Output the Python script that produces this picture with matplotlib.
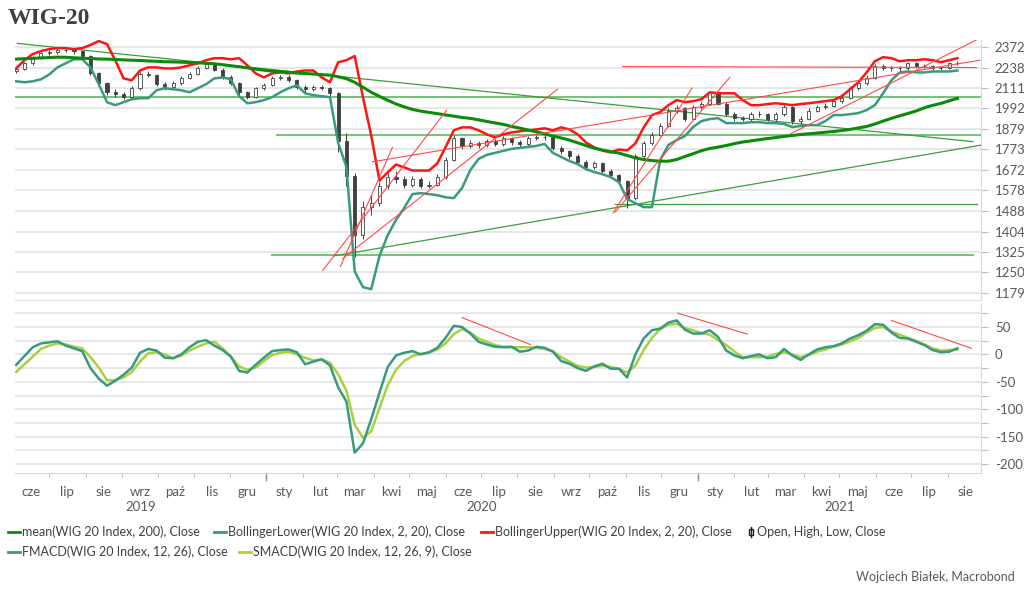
import matplotlib
matplotlib.use("Agg")
import numpy as np
import pandas as pd
import matplotlib.pyplot as plt
from matplotlib.lines import Line2D
from matplotlib.patches import Rectangle
from matplotlib.ticker import FixedLocator, NullLocator
from matplotlib.transforms import blended_transform_factory

plt.rcParams["font.family"] = ["Lato", "DejaVu Sans"]

# weekly candles (one per week, week starting Monday)
weeks = pd.date_range("2019-06-03", periods=115, freq="W-MON")

open_ = [2215, 2230, 2265, 2300, 2330, 2338, 2355, 2350, 2343, 2312,
         2205, 2140, 2087, 2075, 2060, 2110, 2200, 2192, 2135, 2117,
         2140, 2174, 2200, 2238, 2258, 2225, 2180, 2140, 2085, 2060,
         2110, 2130, 2174, 2180, 2160, 2120, 2105, 2120, 2110, 2080,
         1815, 1645, 1390, 1505, 1525, 1597, 1640, 1630, 1605, 1630,
         1600, 1605, 1640, 1722, 1830, 1790, 1805, 1795, 1815, 1800,
         1830, 1810, 1800, 1830, 1835, 1835, 1783, 1763, 1738, 1713,
         1685, 1705, 1667, 1648, 1620, 1545, 1740, 1805, 1848, 1898,
         1980, 1992, 1934, 2000, 2020, 2085, 2020, 1960, 1938, 1933,
         1960, 1960, 1933, 1960, 2000, 1920, 1934, 1980, 2000, 2007,
         2035, 2055, 2110, 2140, 2174, 2250, 2238, 2232, 2232, 2265,
         2250, 2245, 2232, 2238, 2265]
high = [2245, 2275, 2312, 2340, 2352, 2368, 2366, 2360, 2352, 2318,
        2212, 2150, 2105, 2090, 2122, 2210, 2215, 2198, 2150, 2152,
        2185, 2212, 2248, 2272, 2265, 2232, 2188, 2148, 2095, 2120,
        2142, 2185, 2192, 2188, 2168, 2130, 2132, 2130, 2118, 2085,
        1860, 1660, 1530, 1560, 1615, 1660, 1668, 1642, 1645, 1638,
        1620, 1652, 1735, 1845, 1838, 1822, 1815, 1828, 1825, 1842,
        1838, 1822, 1840, 1848, 1850, 1842, 1792, 1770, 1748, 1722,
        1718, 1712, 1675, 1655, 1628, 1752, 1818, 1862, 1910, 1995,
        2010, 1998, 2012, 2035, 2095, 2090, 2028, 1972, 1950, 1975,
        1978, 1968, 1972, 2012, 2005, 1948, 1992, 2012, 2022, 2045,
        2068, 2122, 2152, 2188, 2262, 2262, 2250, 2248, 2275, 2272,
        2262, 2255, 2250, 2275, 2282]
low = [2205, 2222, 2255, 2290, 2318, 2328, 2336, 2328, 2300, 2190,
       2122, 2070, 2058, 2045, 2052, 2100, 2180, 2122, 2102, 2108,
       2132, 2165, 2192, 2228, 2215, 2168, 2128, 2070, 2045, 2052,
       2100, 2122, 2162, 2148, 2108, 2090, 2096, 2098, 2062, 1760,
       1600, 1305, 1375, 1470, 1510, 1585, 1612, 1590, 1595, 1588,
       1590, 1598, 1632, 1715, 1775, 1780, 1782, 1788, 1790, 1792,
       1798, 1788, 1792, 1822, 1820, 1772, 1750, 1725, 1700, 1672,
       1678, 1655, 1635, 1605, 1500, 1538, 1732, 1795, 1840, 1890,
       1965, 1920, 1928, 1990, 2012, 2010, 1948, 1925, 1920, 1925,
       1945, 1920, 1925, 1952, 1905, 1900, 1928, 1972, 1990, 1998,
       2025, 2048, 2100, 2132, 2165, 2225, 2218, 2215, 2225, 2238,
       2232, 2220, 2222, 2230, 2255]
close = [2230, 2265, 2300, 2330, 2338, 2355, 2350, 2343, 2312, 2205,
         2140, 2087, 2075, 2060, 2110, 2200, 2192, 2135, 2117, 2140,
         2174, 2200, 2238, 2258, 2225, 2180, 2140, 2085, 2060, 2110,
         2130, 2174, 2180, 2160, 2120, 2105, 2120, 2110, 2080, 1815,
         1645, 1390, 1505, 1525, 1597, 1640, 1630, 1605, 1630, 1600,
         1605, 1640, 1722, 1830, 1790, 1805, 1795, 1815, 1800, 1830,
         1810, 1800, 1830, 1835, 1835, 1783, 1763, 1738, 1713, 1685,
         1705, 1667, 1648, 1620, 1545, 1740, 1805, 1848, 1898, 1980,
         1992, 1934, 2000, 2020, 2085, 2020, 1960, 1938, 1933, 1960,
         1960, 1933, 1960, 2000, 1920, 1934, 1980, 2000, 2007, 2035,
         2055, 2110, 2140, 2174, 2250, 2238, 2232, 2232, 2265, 2250,
         2245, 2232, 2238, 2265, 2270]

mean200 = [2292, 2295, 2297, 2300, 2302, 2305, 2304, 2301, 2298, 2296,
           2293, 2292, 2290, 2287, 2285, 2283, 2280, 2278, 2275, 2274,
           2272, 2270, 2268, 2265, 2262, 2256, 2249, 2243, 2236, 2228,
           2221, 2215, 2212, 2207, 2203, 2200, 2197, 2193, 2190, 2180,
           2168, 2146, 2116, 2086, 2062, 2039, 2018, 2001, 1987, 1977,
           1970, 1963, 1956, 1949, 1942, 1937, 1929, 1920, 1912, 1904,
           1893, 1884, 1874, 1864, 1853, 1842, 1832, 1821, 1807, 1793,
           1780, 1770, 1762, 1755, 1743, 1731, 1723, 1718, 1715, 1715,
           1723, 1738, 1752, 1767, 1778, 1785, 1793, 1803, 1811, 1817,
           1823, 1829, 1834, 1840, 1845, 1850, 1854, 1858, 1862, 1866,
           1871, 1877, 1885, 1893, 1906, 1922, 1937, 1951, 1964, 1978,
           1996, 2010, 2021, 2036, 2050]
boll_lower = [2152, 2146, 2152, 2164, 2194, 2239, 2265, 2291, 2291, 2239,
              2134, 2028, 2011, 2028, 2045, 2051, 2051, 2098, 2110, 2104,
              2098, 2086, 2110, 2134, 2170, 2176, 2164, 2063, 2022, 2028,
              2040, 2057, 2086, 2110, 2128, 2080, 2069, 2063, 2057, 1806,
              1687, 1254, 1199, 1192, 1310, 1390, 1451, 1502, 1562, 1566,
              1562, 1557, 1548, 1544, 1589, 1672, 1726, 1746, 1756, 1766,
              1776, 1781, 1786, 1791, 1801, 1756, 1736, 1716, 1701, 1677,
              1663, 1653, 1639, 1616, 1540, 1522, 1505, 1505, 1721, 1796,
              1821, 1842, 1890, 1922, 1933, 1938, 1911, 1911, 1911, 1916,
              1916, 1911, 1911, 1906, 1890, 1895, 1900, 1900, 1922, 1955,
              1955, 1960, 1966, 1983, 2011, 2080, 2158, 2207, 2213, 2207,
              2207, 2213, 2213, 2213, 2219]
boll_upper = [2232, 2285, 2325, 2345, 2358, 2365, 2365, 2358, 2365, 2386,
              2413, 2392, 2285, 2170, 2158, 2219, 2239, 2239, 2232, 2232,
              2239, 2252, 2265, 2285, 2298, 2298, 2291, 2298, 2252, 2201,
              2176, 2201, 2207, 2201, 2213, 2219, 2219, 2176, 2146, 2272,
              2285, 2312, 2057, 1846, 1623, 1661, 1699, 1685, 1670, 1670,
              1670, 1704, 1784, 1872, 1888, 1888, 1872, 1851, 1835, 1851,
              1861, 1867, 1872, 1877, 1883, 1872, 1888, 1877, 1851, 1809,
              1784, 1768, 1758, 1773, 1768, 1804, 1888, 1955, 1972, 2011,
              2040, 2028, 2034, 2045, 2086, 2080, 2080, 2080, 2040, 2011,
              2011, 2017, 2022, 2017, 2011, 2017, 2022, 2028, 2034, 2040,
              2063, 2104, 2146, 2207, 2278, 2305, 2298, 2278, 2285, 2285,
              2291, 2285, 2272, 2285, 2298]

fmacd = [-19, -3, 13, 20, 22, 24, 16, 11, 6, -25,
         -44, -57, -48, -37, -24, 3, 10, 7, -6, -7,
         0, 13, 23, 26, 16, 8, -4, -30, -33, -19,
         -6, 6, 8, 9, 4, -18, -13, -9, -20, -60,
         -86, -179, -162, -118, -70, -23, -2, 3, 6, 0,
         4, 12, 30, 52, 50, 38, 23, 18, 14, 13,
         14, 5, 7, 14, 12, 5, -12, -17, -25, -30,
         -22, -17, -26, -26, -42, 0, 29, 44, 47, 58,
         62, 45, 38, 38, 44, 32, 7, -2, -7, -3,
         0, -7, -5, 10, -2, -10, 0, 9, 13, 15,
         20, 29, 35, 43, 55, 54, 40, 30, 29, 23,
         17, 8, 4, 5, 11]
smacd = [-32, -18, -4, 10, 16, 20, 18, 14, 11, -5,
         -24, -47, -47, -42, -32, -13, 2, 4, 0, -7,
         -2, 7, 14, 20, 23, 11, -4, -22, -28, -24,
         -12, -1, 3, 5, 0, -6, -11, -9, -15, -36,
         -66, -128, -152, -140, -98, -56, -28, -12, -3, 1,
         3, 9, 20, 37, 46, 40, 29, 23, 17, 14,
         13, 13, 13, 12, 10, 6, -5, -13, -21, -24,
         -23, -20, -23, -26, -33, -20, 8, 30, 46, 54,
         56, 48, 44, 39, 36, 26, 17, 5, -5, -5,
         -5, -4, 1, 4, 0, -5, -1, 5, 9, 14,
         18, 24, 30, 40, 48, 50, 42, 36, 30, 25,
         18, 11, 7, 8, 9]

# analyst's hand drawn lines: (start, value, end, value)
green_levels = [("2019-06-02", 2060, "2021-08-29", 2060),
                ("2020-01-10", 1846, "2021-08-29", 1846),
                ("2020-01-06", 1313, "2021-08-22", 1313)]
green_trends = [("2019-06-04", 2397, "2021-08-22", 1813),
                ("2020-02-27", 1310, "2021-08-29", 1795),
                ("2020-10-23", 1520, "2021-08-26", 1520)]
red_trends = [("2020-10-29", 2244, "2021-08-25", 2238),
              ("2020-03-31", 1712, "2021-08-28", 2285),
              ("2020-02-18", 1258, "2020-06-02", 1982),
              ("2020-03-04", 1272, "2020-04-17", 1784),
              ("2020-03-06", 1301, "2020-09-04", 2104),
              ("2020-10-21", 1480, "2020-12-27", 2111),
              ("2020-10-23", 1485, "2021-01-28", 2176),
              ("2021-03-20", 1852, "2021-08-25", 2420)]
macd_red = [("2020-06-15", 67, "2020-08-12", 18),
            ("2020-12-15", 75, "2021-02-12", 37),
            ("2021-06-14", 62, "2021-08-21", 11)]

price_ticks = [1179, 1250, 1325, 1404, 1488, 1578, 1672, 1773, 1879, 1992, 2111, 2238, 2372]
macd_ticks = [-200, -175, -150, -125, -100, -75, -50, -25, 0, 25, 50, 75]
month_names = ["sty", "lut", "mar", "kwi", "maj", "cze", "lip", "sie", "wrz", "paź", "lis", "gru"]

GRID = "#e3e3e3"
AXC = "#d9d9d9"
TXT = "#595959"
C_MEAN = "#0b8a0b"
C_TEAL = "#389a7e"
C_RED = "#ff1414"
C_LIME = "#a8d13f"

fig = plt.figure(figsize=(10.24, 5.94), dpi=100)
ax1 = fig.add_axes([15 / 1024, 1 - 300 / 594, 966 / 1024, 260 / 594])
ax2 = fig.add_axes([15 / 1024, 1 - 473 / 594, 966 / 1024, 168 / 594], sharex=ax1)

# upper panel
ax1.set_yscale("log")
ax1.set_ylim(1156, 2420)
ax1.set_xlim(pd.Timestamp("2019-06-02"), pd.Timestamp("2021-08-29"))

for s, v0, e, v1 in green_levels:
    ax1.plot([pd.Timestamp(s), pd.Timestamp(e)], [v0, v1], color="#74c274", lw=1.4, zorder=2)
for s, v0, e, v1 in green_trends:
    ax1.plot([pd.Timestamp(s), pd.Timestamp(e)], [v0, v1], color="#3c9e3c", lw=0.9, zorder=2)

o = np.array(open_)
c = np.array(close)
up = c >= o
ax1.vlines(weeks, low, high, color="#404040", lw=0.7, zorder=3)
bot = np.minimum(o, c)
hgt = np.maximum(np.abs(c - o), 3)
ax1.bar(weeks[up], hgt[up], bottom=bot[up], width=2.6, color="white", edgecolor="#404040", lw=0.6, zorder=4)
ax1.bar(weeks[~up], hgt[~up], bottom=bot[~up], width=2.6, color="#404040", edgecolor="#404040", lw=0.6, zorder=4)

ax1.plot(weeks, boll_lower, color=C_TEAL, lw=1.8, zorder=5)
ax1.plot(weeks, boll_upper, color=C_RED, lw=1.8, zorder=5)
ax1.plot(weeks, mean200, color=C_MEAN, lw=2.2, zorder=6)

for s, v0, e, v1 in red_trends:
    ax1.plot([pd.Timestamp(s), pd.Timestamp(e)], [v0, v1], color="#ff4a4a", lw=0.8, zorder=7)

ax1.yaxis.set_major_locator(FixedLocator(price_ticks))
ax1.yaxis.set_minor_locator(NullLocator())
ax1.set_yticklabels([str(t) for t in price_ticks])

# lower panel
ax2.set_ylim(-216, 90)
ax2.plot(weeks, smacd, color=C_LIME, lw=1.8, zorder=4)
ax2.plot(weeks, fmacd, color=C_TEAL, lw=1.8, zorder=5)
for s, v0, e, v1 in macd_red:
    ax2.plot([pd.Timestamp(s), pd.Timestamp(e)], [v0, v1], color="#ff4a4a", lw=0.8, zorder=6)
ax2.set_yticks(macd_ticks)
ax2.set_yticklabels([str(t) if t % 50 == 0 else "" for t in macd_ticks])

for ax in (ax1, ax2):
    ax.yaxis.tick_right()
    ax.grid(axis="y", color=GRID, lw=1.2, zorder=0)
    ax.set_axisbelow(True)
    for side in ("top", "left"):
        ax.spines[side].set_visible(False)
    ax.spines["right"].set_color(AXC)
    ax.spines["bottom"].set_color(AXC)
    ax.tick_params(axis="y", which="both", colors="#bfbfbf", labelcolor=TXT, labelsize=9.5,
                   length=5, pad=5)
ax1.spines["bottom"].set_color(GRID)
ax1.tick_params(axis="x", which="both", bottom=False, labelbottom=False)

# x axis: month boundaries as ticks, month names in between
month_starts = pd.date_range("2019-06-01", "2021-09-01", freq="MS")
mid_months = month_starts[:-1] + pd.Timedelta(days=15)
ax2.xaxis.set_major_locator(FixedLocator(matplotlib.dates.date2num(month_starts)))
ax2.xaxis.set_minor_locator(FixedLocator(matplotlib.dates.date2num(mid_months)))
ax2.xaxis.set_major_formatter(matplotlib.ticker.NullFormatter())
ax2.xaxis.set_minor_formatter(matplotlib.ticker.FixedFormatter([month_names[d.month - 1] for d in mid_months]))
ax2.tick_params(axis="x", which="major", length=3, color="#bfbfbf")
ax2.tick_params(axis="x", which="minor", length=0, pad=9, labelsize=9.5, labelcolor=TXT)

trans = blended_transform_factory(ax2.transData, ax2.transAxes)
xmin, xmax = ax2.get_xlim()
for yr in (2019, 2020, 2021):
    a = max(matplotlib.dates.date2num(pd.Timestamp(f"{yr}-01-01")), xmin)
    b = min(matplotlib.dates.date2num(pd.Timestamp(f"{yr + 1}-01-01")), xmax)
    ax2.text((a + b) / 2, -0.205, str(yr), transform=trans, ha="center", va="center",
             fontsize=9.5, color=TXT)
    if yr > 2019:
        ax2.plot([a, a], [0, -0.04], transform=trans, color="#8c8c8c", lw=1, clip_on=False)

# title and footer
fig.text(8 / 1024, 1 - 18 / 594, "WIG-20", fontsize=17, fontweight="bold",
         family="Liberation Serif", color="#404040", va="center")
fig.text(1015 / 1024, 1 - 577 / 594, "Wojciech Białek, Macrobond", ha="right", va="center",
         fontsize=9, color=TXT)

# legend drawn by hand to keep Macrobond's two-row layout
legend_items = [(8, 532, C_MEAN, "mean(WIG 20 Index, 200), Close"),
                (214, 532, C_TEAL, "BollingerLower(WIG 20 Index, 2, 20), Close"),
                (481, 532, C_RED, "BollingerUpper(WIG 20 Index, 2, 20), Close"),
                (8, 552, C_TEAL, "FMACD(WIG 20 Index, 12, 26), Close"),
                (239, 552, C_LIME, "SMACD(WIG 20 Index, 12, 26, 9), Close")]
for x, y, col, label in legend_items:
    fig.add_artist(Line2D([x / 1024, (x + 12) / 1024], [1 - y / 594] * 2, color=col, lw=2))
    fig.text((x + 14) / 1024, 1 - y / 594, label, fontsize=9, color="#404040", va="center")
fig.add_artist(Line2D([751 / 1024] * 2, [1 - 527 / 594, 1 - 537 / 594], color="#202020", lw=1))
fig.add_artist(Rectangle((749 / 1024, 1 - 535 / 594), 4 / 1024, 6 / 594, facecolor="white",
                         edgecolor="#202020", lw=1))
fig.text(757 / 1024, 1 - 532 / 594, "Open, High, Low, Close", fontsize=9, color="#404040", va="center")

fig.savefig("out.png", dpi=100, facecolor="white")
